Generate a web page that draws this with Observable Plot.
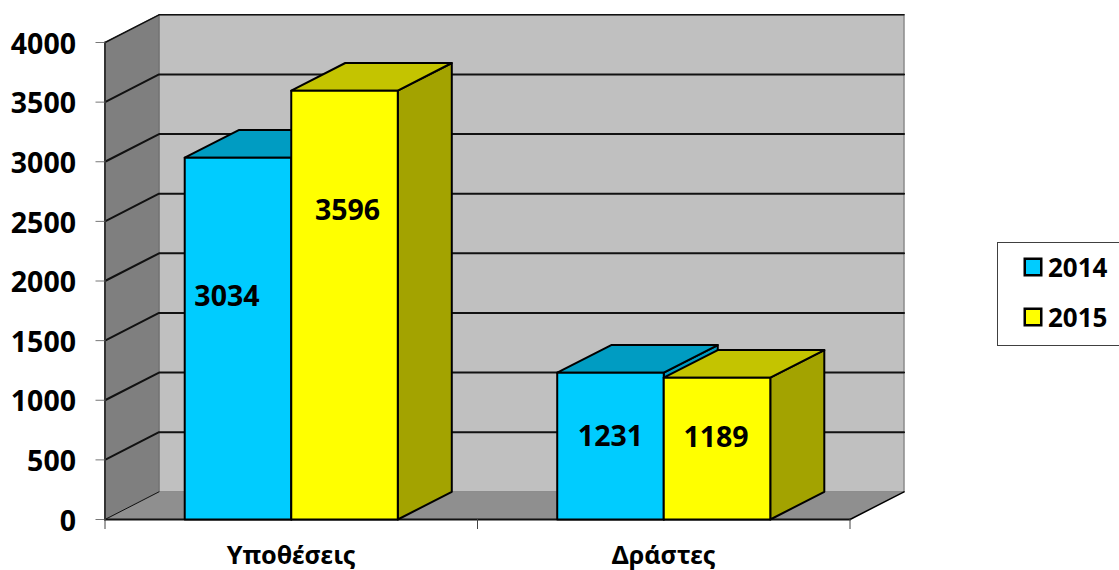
<!DOCTYPE html>
<html>
<head>
<meta charset="utf-8">
<script src="https://cdn.jsdelivr.net/npm/d3@7"></script>
<script src="https://cdn.jsdelivr.net/npm/@observablehq/plot@0.6"></script>
<style>
html,body{margin:0;padding:0;background:#fff;overflow:hidden}
#wrap{position:relative;width:1119px;height:570px;font-family:"Noto Sans",sans-serif;font-weight:700;color:#000}
#wrap svg{display:block}
#legend{position:absolute;left:997px;top:242px;width:130px;height:102px;border:1px solid #404040;background:#fff;box-sizing:content-box}
.item{position:absolute;left:26px;display:flex;align-items:center;font-size:26px;line-height:30px;height:30px}
.item i{display:block;width:14px;height:14px;border:2px solid #000;margin-right:6px;box-shadow:0 0 0 .5px #000}
</style>
</head>
<body>
<div id="wrap"><div id="legend"></div></div>
<script>
const categories = ["Υποθέσεις", "Δράστες"];
const years = ["2014", "2015"];
const values2014 = [3034, 1231];
const values2015 = [3596, 1189];
const yTicks = [0, 500, 1000, 1500, 2000, 2500, 3000, 3500, 4000];

const frontFill = {"2014": "#00CCFF", "2015": "#FFFF00"};
const topFill = {"2014": "#009CC2", "2015": "#C4C400"};
const sideFill = {"2014": "#009CC2", "2015": "#A3A300"};
const labelShift = [[[-11, -42], [3, -94]], [[0, -9], [-1, -11]]];

// oblique projection, in data units
const DX = 0.145, DY = 232, BAR = 0.286;

const face = (pts, fill, stroke = "#000", strokeWidth = 2) =>
  Plot.line([...pts, pts[0]], {x: d => d[0], y: d => d[1], fill, stroke, strokeWidth, strokeLinejoin: "round"});
const seg = (pts, stroke = "#000", strokeWidth = 2) =>
  Plot.line(pts, {x: d => d[0], y: d => d[1], stroke, strokeWidth});

const marks = [];
// walls and floor
marks.push(face([[DX, DY], [2 + DX, DY], [2 + DX, 4000 + DY], [DX, 4000 + DY]], "#C0C0C0", "#8c8c8c", 1.5));
marks.push(face([[0, 0], [DX, DY], [DX, 4000 + DY], [0, 4000]], "#7F7F7F", "#6e6e6e", 1));
marks.push(face([[0, 0], [2, 0], [2 + DX, DY], [DX, DY]], "#8F8F8F", "none", 0));
// gridlines
for (const v of yTicks.slice(1)) {
  marks.push(seg([[0, v], [DX, v + DY], [2 + DX, v + DY]], "#111", v === 4000 ? 1.5 : 2));
}
marks.push(seg([[0, 0], [DX, DY]], "#111", 1));
marks.push(seg([[2, 0], [2 + DX, DY]], "#000", 1.5));
marks.push(seg([[0, 0], [2, 0]], "#111", 2));
marks.push(seg([[0, 0], [0, 4000]], "#333", 2));
// bars
categories.forEach((c, i) => {
  const series = [values2014[i], values2015[i]];
  series.forEach((v, j) => {
    const y = years[j];
    const x0 = i + 0.5 + (j - 1) * BAR, x1 = x0 + BAR;
    marks.push(face([[x1, 0], [x1 + DX, DY], [x1 + DX, v + DY], [x1, v]], sideFill[y]));
    marks.push(face([[x0, v], [x1, v], [x1 + DX, v + DY], [x0 + DX, v + DY]], topFill[y]));
    marks.push(face([[x0, 0], [x1, 0], [x1, v], [x0, v]], frontFill[y]));
  });
});
// value labels
categories.forEach((c, i) => {
  [values2014[i], values2015[i]].forEach((v, j) => {
    const x = i + 0.5 + (j - 0.5) * BAR;
    marks.push(Plot.text([v], {
      x: () => x, y: d => d / 2, text: d => String(d),
      dx: labelShift[i][j][0], dy: labelShift[i][j][1],
      fontSize: 28.5, fontWeight: 700, fill: "#000"
    }));
  });
});
// axes
marks.push(Plot.axisY({ticks: yTicks, tickSize: 9, tickFormat: () => "", label: null, stroke: "#777"}));
marks.push(Plot.axisY({
  ticks: yTicks, tickSize: 0, tickPadding: 29, label: null, stroke: "none",
  fontSize: 28.5, fontWeight: 700, fill: "#000", dy: 2, tickFormat: d => String(d)
}));
marks.push(Plot.axisX({ticks: [0, 1, 2], tickSize: 10, tickFormat: () => "", label: null, stroke: "#444"}));
marks.push(Plot.axisX({
  ticks: [0.5, 1.5], tickSize: 0, tickPadding: 27, label: null, stroke: "none",
  fontSize: 25.2, fontWeight: 700, fill: "#000", tickFormat: d => categories[Math.floor(d)]
}));

const chart = Plot.plot({
  width: 1119, height: 570,
  marginLeft: 104.5, marginRight: 269.5, marginTop: 42, marginBottom: 51,
  style: {fontFamily: '"Noto Sans", sans-serif', background: "#fff", overflow: "visible"},
  x: {type: "linear", domain: [0, 2], axis: null},
  y: {type: "linear", domain: [0, 4000], axis: null},
  marks
});
const wrap = document.getElementById("wrap");
wrap.insertBefore(chart, wrap.firstChild);

const legend = document.getElementById("legend");
years.forEach((y, j) => {
  const el = document.createElement("div");
  el.className = "item";
  el.style.top = (9 + j * 50) + "px";
  const sw = document.createElement("i");
  sw.style.background = frontFill[y];
  el.appendChild(sw);
  el.appendChild(document.createTextNode(y));
  legend.appendChild(el);
});
</script>
</body>
</html>
